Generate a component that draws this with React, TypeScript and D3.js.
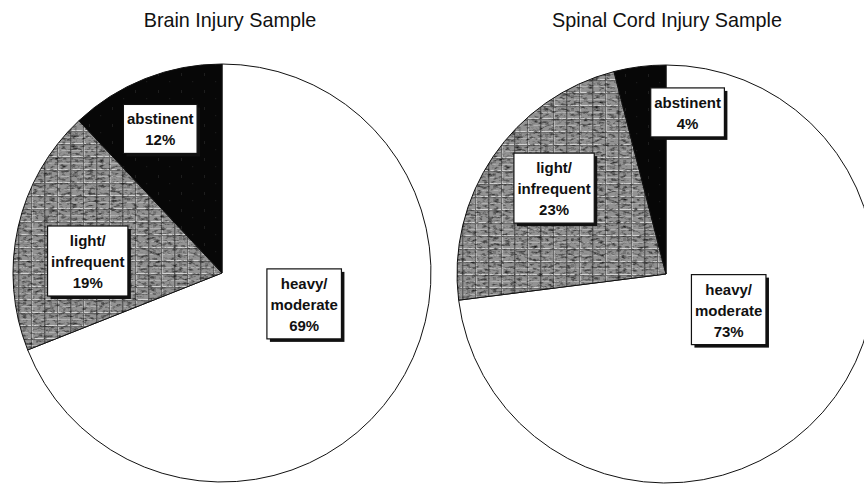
import React from "react";
import * as d3 from "d3";

const categories = ["heavy/moderate", "light/infrequent", "abstinent"];
const labelLines = [["heavy/", "moderate"], ["light/", "infrequent"], ["abstinent"]];
const brainValues = [69, 19, 12];
const spinalValues = [73, 23, 4];
const titles = ["Brain Injury Sample", "Spinal Cord Injury Sample"];

// layout (not data): label angle (deg from 12 o'clock) and radius fraction
const brainLabelPlace = [
  { a: 110.6, r: 0.42 },
  { a: -84.9, r: 0.645 },
  { a: -23.2, r: 0.75 },
];
const spinalLabelPlace = [
  { a: 119.6, r: 0.345 },
  { a: -52.5, r: 0.675 },
  { a: 7.6, r: 0.78 },
];

const W = 864;
const H = 485;
const R = 209;
const FONT = "Arial, 'Liberation Sans', Helvetica, sans-serif";

function measure(text: string, size: number, weight = "bold") {
  const c = document.createElement("canvas").getContext("2d");
  if (!c) return text.length * size * 0.55;
  c.font = `${weight} ${size}px ${FONT}`;
  return c.measureText(text).width;
}

type PieProps = {
  cx: number;
  cy: number;
  values: number[];
  title: string;
  titleX: number;
  place: { a: number; r: number }[];
};

function Pie({ cx, cy, values, title, titleX, place }: PieProps) {
  const pie = d3.pie<number>().sort(null).value((d) => d);
  const arcs = pie(values);
  const arc = d3.arc<d3.PieArcDatum<number>>().innerRadius(0).outerRadius(R);
  const fills = ["#ffffff", "url(#grayTex)", "url(#blackTex)"];
  const fs = 15;
  const lh = 21;
  return (
    <g>
      <text x={titleX} y={27} textAnchor="middle" fontFamily={FONT} fontSize={19.8} fill="#111">
        {title}
      </text>
      <g transform={`translate(${cx},${cy})`}>
        {arcs.map((a, i) => (
          <path key={categories[i]} d={arc(a) || ""} fill={fills[i]} stroke="#111" strokeWidth={1} />
        ))}
        {arcs.map((a, i) =>
          i === 1 ? (
            <path key={"n" + i} d={arc(a) || ""} fill="#000" filter="url(#noise)" />
          ) : null
        )}
        {arcs.map((a, i) => {
          const lines = [...labelLines[i], `${values[i]}%`];
          const p = place[i];
          const ang = (p.a * Math.PI) / 180;
          const rr = p.r * R;
          const lx = Math.sin(ang) * rr;
          const ly = -Math.cos(ang) * rr;
          const bw = Math.max(...lines.map((l) => measure(l, fs))) + 7;
          const bh = lines.length * lh + 7;
          const x0 = lx - bw / 2;
          const y0 = ly - bh / 2;
          return (
            <g key={"lab" + i}>
              <rect x={x0 + 3} y={y0 + 3} width={bw} height={bh} fill="#111" />
              <rect x={x0} y={y0} width={bw} height={bh} fill="#fff" stroke="#111" strokeWidth={1.2} />
              {lines.map((l, j) => (
                <text
                  key={j}
                  x={lx}
                  y={y0 + 4 + lh * (j + 1) - 5}
                  textAnchor="middle"
                  fontFamily={FONT}
                  fontWeight="bold"
                  fontSize={fs}
                  fill="#111"
                >
                  {l}
                </text>
              ))}
            </g>
          );
        })}
      </g>
    </g>
  );
}

export default function App() {
  return (
    <svg
      width={W}
      height={H}
      viewBox={`0 0 ${W} ${H}`}
      style={{ position: "absolute", left: 0, top: 0, background: "#fff" }}
    >
      <defs>
        <filter id="noise" x="0" y="0" width="100%" height="100%">
          <feTurbulence type="fractalNoise" baseFrequency="0.18 0.4" numOctaves="3" seed="5" result="t" />
          <feColorMatrix
            in="t"
            type="matrix"
            values="0 0 0 0 0  0 0 0 0 0  0 0 0 0 0  0 0 0 1.8 -0.85"
            result="a"
          />
          <feComposite in="a" in2="SourceAlpha" operator="in" />
        </filter>
        <pattern id="grayTex" patternUnits="userSpaceOnUse" width="26" height="13">
          <rect width="26" height="13" fill="#939393" />
          <rect x="0" y="0" width="26" height="1.2" fill="#d2d2d2" />
          <rect x="0" y="1.2" width="26" height="1" fill="#646464" />
          <rect x="0" y="7" width="26" height="0.8" fill="#b8b8b8" />
          <rect x="4" y="0" width="1.4" height="13" fill="#5e5e5e" />
          <rect x="17" y="0" width="1.1" height="13" fill="#6a6a6a" />
          <rect x="18.1" y="2" width="0.8" height="11" fill="#c4c4c4" />
          <rect x="9" y="3" width="3" height="3" fill="#777" />
        </pattern>
        <pattern id="blackTex" patternUnits="userSpaceOnUse" width="23" height="17">
          <rect width="23" height="17" fill="#070707" />
          <rect x="5" y="4" width="1" height="3" fill="#1e1e1e" />
          <rect x="16" y="12" width="1.2" height="1.2" fill="#1a1a1a" />
        </pattern>
      </defs>
      <Pie cx={222} cy={273} values={brainValues} title={titles[0]} titleX={230} place={brainLabelPlace} />
      <Pie cx={666} cy={274} values={spinalValues} title={titles[1]} titleX={667} place={spinalLabelPlace} />
    </svg>
  );
}
